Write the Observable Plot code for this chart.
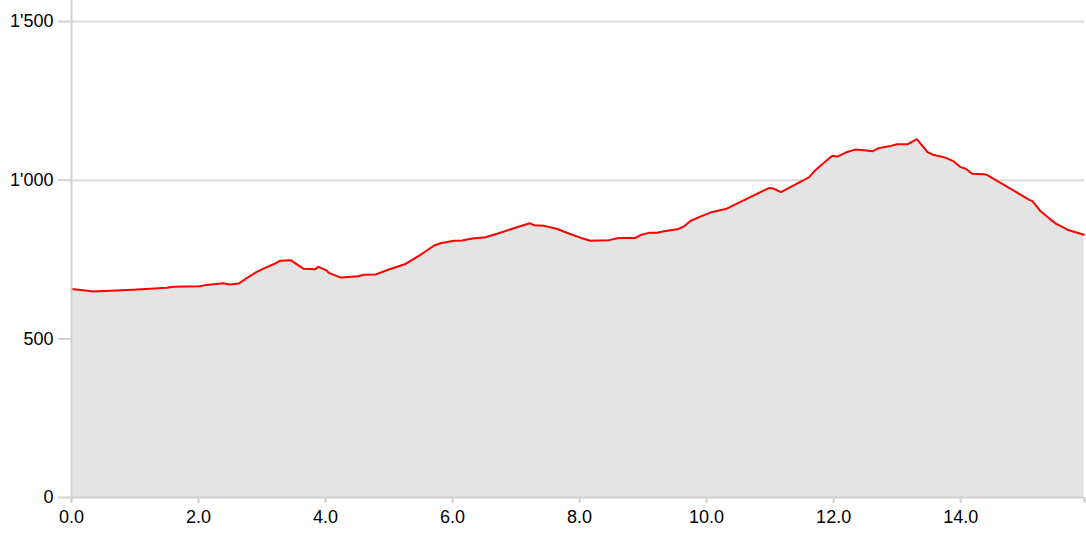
<!DOCTYPE html>
<html>
<head>
<meta charset="utf-8">
<script src="https://cdn.jsdelivr.net/npm/d3@7"></script>
<script src="https://cdn.jsdelivr.net/npm/@observablehq/plot@0.6"></script>
<style>
  html, body { margin: 0; padding: 0; background: #fff; }
</style>
</head>
<body>
<div id="chart"></div>
<script>
// Distance along route (km)
const distanceKm = [
  0, 0.18, 0.34, 0.97, 1.50, 1.60, 2.02, 2.13, 2.39, 2.49,
  2.63, 2.78, 2.91, 3.04, 3.18, 3.28, 3.45, 3.65, 3.83, 3.89,
  4.02, 4.05, 4.24, 4.52, 4.60, 4.79, 5.02, 5.26, 5.52, 5.71,
  5.81, 6.02, 6.15, 6.31, 6.52, 6.70, 6.94, 7.10, 7.22, 7.28,
  7.44, 7.65, 7.83, 8.02, 8.17, 8.46, 8.62, 8.88, 8.96, 9.09,
  9.22, 9.33, 9.54, 9.64, 9.75, 9.91, 10.09, 10.30, 10.98, 11.06,
  11.17, 11.61, 11.72, 11.95, 11.98, 12.06, 12.19, 12.35, 12.48, 12.61,
  12.71, 12.90, 13.00, 13.16, 13.31, 13.48, 13.58, 13.76, 13.89, 14.00,
  14.08, 14.18, 14.37, 14.42, 15.08, 15.13, 15.26, 15.42, 15.50, 15.68,
  15.94
];
// Elevation (m)
const elevationM = [
  657, 653, 649, 655, 661, 664, 666, 670, 675, 671,
  674, 694, 710, 723, 735, 746, 748, 721, 719, 727,
  715, 708, 693, 697, 702, 703, 720, 736, 768, 794,
  801, 809, 810, 816, 820, 831, 847, 857, 864, 858,
  856, 846, 832, 818, 809, 811, 818, 818, 827, 834,
  834, 839, 845, 854, 872, 886, 900, 909, 975, 973,
  962, 1009, 1033, 1072, 1077, 1074, 1087, 1097, 1094, 1091,
  1101, 1108, 1113, 1113, 1129, 1088, 1079, 1071, 1059, 1041,
  1036, 1020, 1019, 1016, 938, 934, 902, 875, 863, 844,
  828
];
const xMax = 15.95;
const xTicks = [0, 2, 4, 6, 8, 10, 12, 14];
const yTicks = [0, 500, 1000, 1500];

const data = distanceKm.map((d, i) => ({km: d, ele: elevationM[i]}));
const fmtY = d3.formatLocale({decimal: ".", thousands: "'", grouping: [3], currency: ["", ""]}).format(",");
const fmtX = d3.format(".1f");

const chart = Plot.plot({
  width: 1086,
  height: 537,
  marginLeft: 71,
  marginRight: 2,
  marginTop: 21,
  marginBottom: 40,
  style: {fontFamily: "'Liberation Sans', Arial, sans-serif", fontSize: "18px", background: "#fff", color: "#000"},
  x: {domain: [0, xMax], label: null},
  y: {domain: [0, 1500], label: null},
  marks: [
    Plot.ruleY(yTicks.slice(1), {stroke: "#dcdcdc", strokeWidth: 2}),
    Plot.areaY(data, {x: "km", y: "ele", fill: "#e4e4e4"}),
    Plot.line(data, {x: "km", y: "ele", stroke: "#ff0000", strokeWidth: 2}),
    Plot.ruleX([0], {y1: 0, y2: 1566, stroke: "#cfcfcf", strokeWidth: 2}),
    Plot.ruleY([0], {stroke: "#cfcfcf", strokeWidth: 2}),
    Plot.axisY({ticks: yTicks, tickFormat: fmtY, tickSize: 13, tickPadding: 5, stroke: "#cfcfcf", strokeWidth: 2, fill: "#000", label: null}),
    Plot.axisX({ticks: xTicks.concat([xMax]), tickFormat: d => (d === xMax ? "" : fmtX(d)), tickSize: 6, tickPadding: 7, stroke: "#cfcfcf", strokeWidth: 2, fill: "#000", label: null})
  ]
});
document.getElementById("chart").appendChild(chart);
</script>
</body>
</html>
